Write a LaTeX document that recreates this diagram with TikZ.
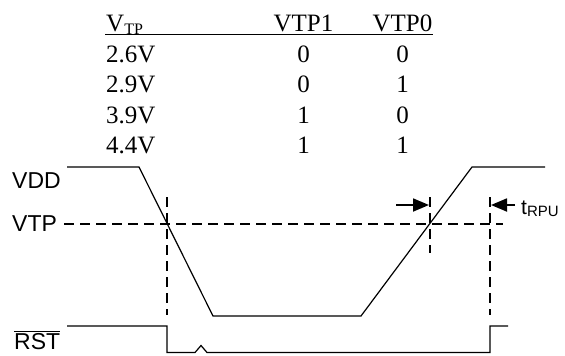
\documentclass[tikz,border=0pt]{standalone}
\usepackage{fontspec}
\setmainfont{Liberation Serif}
\newfontfamily\arial{Liberation Sans}
\usetikzlibrary{arrows.meta}
\tikzset{
  tabtxt/.style={inner sep=0pt, font=\fontsize{25}{30}\selectfont},
  lbl/.style={inner sep=0pt, font=\arial\fontsize{23}{28}\selectfont},
  wave/.style={line width=1.2pt, line join=miter},
  dashln/.style={line width=2pt, dash pattern=on 10pt off 6pt},
  dimarrow/.style={line width=1.8pt, -{Triangle[length=16pt,width=13pt]}},
}
\begin{document}
\begin{tikzpicture}[x=1pt,y=-1pt]
\useasboundingbox (0,0) rectangle (565,356);
% table
\node[tabtxt, anchor=base west] (hv) at (106,31) {V\raisebox{-3pt}{\fontsize{16}{16}\selectfont TP}};
\node[tabtxt, anchor=base] (h1) at (303.5,31) {VTP1};
\node[tabtxt, anchor=base] (h0) at (402.5,31) {VTP0};
\coordinate (ulA) at (105,34.5);
\coordinate (ulB) at (433,34.5);
\draw[line width=1.6pt] (ulA) -- (ulB);
\foreach \v/\a/\b/\y [count=\i] in {2.6V/0/0/62, 2.9V/0/1/92.5, 3.9V/1/0/123, 4.4V/1/1/153}{
  \node[tabtxt, anchor=base west] (v\i) at (106,\y) {\v};
  \node[tabtxt, anchor=base] (a\i) at (303.5,\y) {\a};
  \node[tabtxt, anchor=base] (b\i) at (402.5,\y) {\b};
}
% labels
\node[lbl, anchor=base west] (vdd) at (12,188) {VDD};
\node[lbl, anchor=base west] (vtp) at (12,231) {VTP};
\node[lbl, anchor=base west] (rst) at (14,349) {$\overline{\mbox{RST}}$};
\node[inner sep=0pt, anchor=base west, font=\arial\fontsize{21}{24}\selectfont] (trpu) at (521,214) {t\raisebox{-2pt}{\fontsize{15}{15}\selectfont RPU}};
% VDD waveform
\coordinate (w0) at (67,167);
\coordinate (w1) at (139,167);
\coordinate (w2) at (213,316);
\coordinate (w3) at (361,316);
\coordinate (w4) at (472,167);
\coordinate (w5) at (545,167);
\draw[wave] (w0) -- (w1) -- (w2) -- (w3) -- (w4) -- (w5);
% RST waveform
\coordinate (r0) at (67,326);
\coordinate (r1) at (167,326);
\coordinate (r2) at (167,352.5);
\coordinate (r3) at (195,352.5);
\coordinate (r4) at (201,345.5);
\coordinate (r5) at (207,352.5);
\coordinate (r6) at (490,352.5);
\coordinate (r7) at (490,326);
\coordinate (r8) at (508,326);
\draw[wave] (r0) -- (r1) -- (r2) -- (r3) -- (r4) -- (r5) -- (r6) -- (r7) -- (r8);
% dashed lines
\coordinate (hA) at (64,224);
\coordinate (hB) at (503,224);
\draw[dashln] (hA) -- (hB);
\coordinate (d1t) at (167,197);
\coordinate (d1b) at (167,315);
\draw[dashln] (d1t) -- (d1b);
\coordinate (d2t) at (430,197);
\coordinate (d2b) at (430,253);
\draw[dashln] (d2t) -- (d2b);
\coordinate (d3t) at (490,197);
\coordinate (d3b) at (490,315);
\draw[dashln] (d3t) -- (d3b);
% arrows
\coordinate (a1s) at (396,205);
\coordinate (a1e) at (429,205);
\draw[dimarrow] (a1s) -- (a1e);
\coordinate (a2s) at (515,205);
\coordinate (a2e) at (491,205);
\draw[dimarrow] (a2s) -- (a2e);
\end{tikzpicture}
\end{document}
